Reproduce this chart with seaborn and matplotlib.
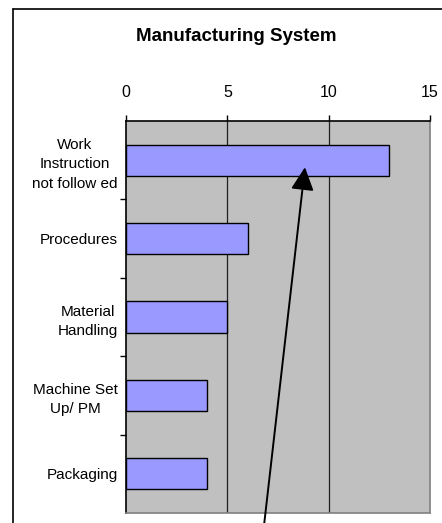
import matplotlib
matplotlib.use("Agg")
import matplotlib.pyplot as plt
from matplotlib.lines import Line2D
import seaborn as sns
import pandas as pd

# Chart data
categories = ["Work\nInstruction\nnot follow ed", "Procedures", "Material\nHandling",
              "Machine Set\nUp/ PM", "Packaging"]
counts = [13, 6, 5, 4, 4]
x_ticks = [0, 5, 10, 15]

df = pd.DataFrame({"cause": categories, "count": counts})

sns.set_style("white")
plt.rcParams["font.family"] = ["Liberation Sans", "DejaVu Sans"]
plt.rcParams["text.color"] = "black"
plt.rcParams["xtick.color"] = "black"
plt.rcParams["ytick.color"] = "black"

fig = plt.figure(figsize=(4.42, 5.23), dpi=100)
ax = fig.add_axes([126 / 442, 10 / 523, 304 / 442, 392 / 523])
ax.set_facecolor("#C0C0C0")

sns.barplot(data=df, y="cause", x="count", orient="h", color="#9999FF",
            edgecolor="black", linewidth=1, width=0.4, saturation=1, ax=ax, zorder=3)

ax.set_xlim(0, 15)
ax.set_ylim(len(categories) - 0.5, -0.5)
ax.set_xticks(x_ticks)
ax.xaxis.tick_top()
ax.tick_params(axis="x", which="both", top=True, bottom=False, direction="out",
               length=4, width=1, color="black", labelcolor="black", labelsize=11.5, pad=11)
ax.set_xlabel("")
ax.set_ylabel("")

# gridlines at major x ticks
for v in x_ticks[1:-1]:
    ax.axvline(v, color="#202020", linewidth=0.9, zorder=1)

# y ticks at category boundaries, labels at centres
ax.set_yticks([i + 0.5 for i in range(len(categories) - 1)], minor=True)
ax.set_yticks(range(len(categories)))
ax.set_yticklabels(categories, multialignment="center", linespacing=1.5)
ax.tick_params(axis="y", which="major", length=0, labelsize=11, labelcolor="black", pad=6)
ax.tick_params(axis="y", which="minor", left=True, length=4, width=1, color="black")

for side in ["left", "top"]:
    ax.spines[side].set_color("black")
    ax.spines[side].set_linewidth(1.2)
for side in ["right", "bottom"]:
    ax.spines[side].set_color("#808080")
    ax.spines[side].set_linewidth(1.2)

fig.text(236 / 442, 1 - 36 / 523, "Manufacturing System", ha="center", va="center",
         fontsize=13.5, fontweight="bold", color="black")

# annotation arrow pointing at the top bar
ax.annotate("", xy=(8.83, 0.09), xycoords="data",
            xytext=(262, -20), textcoords="figure pixels",
            arrowprops=dict(arrowstyle="-|>,head_length=1.0,head_width=0.5",
                            mutation_scale=14, color="black", linewidth=1.4,
                            shrinkA=0, shrinkB=0),
            annotation_clip=False, zorder=5)

# outer chart frame (continues past the right and bottom edges)
fig.add_artist(Line2D([13 / 442, 1.0], [1 - 8.5 / 523, 1 - 8.5 / 523],
                      transform=fig.transFigure, color="black", linewidth=1.2))
fig.add_artist(Line2D([13 / 442, 13 / 442], [0.0, 1 - 8.5 / 523],
                      transform=fig.transFigure, color="black", linewidth=1.2))

fig.savefig("out.png", dpi=100)
